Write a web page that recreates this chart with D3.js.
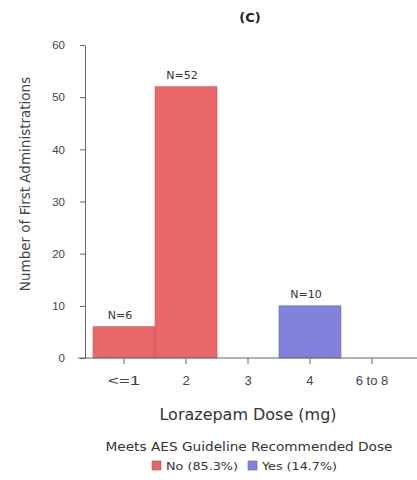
<!DOCTYPE html>
<html>
<head>
<meta charset="utf-8">
<script src="https://cdn.jsdelivr.net/npm/d3@7"></script>
<style>
  body { margin: 0; background: #fff; }
  svg { font-family: 'DejaVu Sans', Verdana, sans-serif; }
</style>
</head>
<body>
<div id="chart"></div>
<script>
const WIDTH = 417;
const HEIGHT = 480;

// data
const doses = ['<=1', '2', '3', '4', '6 to 8'];
const counts = [6, 52, 0, 10, 0];
const meets = ['No', 'No', 'No', 'Yes', 'No'];
const barLabels = ['N=6', 'N=52', '', 'N=10', ''];
const yTicks = [0, 10, 20, 30, 40, 50, 60];
const legendKeys = ['No', 'Yes'];
const legendLabels = ['No (85.3%)', 'Yes (14.7%)'];

const color = d3.scaleOrdinal().domain(legendKeys).range(['#e8686a', '#8282da']);

const svg = d3.select('#chart')
  .append('svg')
  .attr('width', WIDTH)
  .attr('height', HEIGHT);

const x = d3.scaleBand().domain(doses).range([85, 411]).paddingInner(0).paddingOuter(0.13);
const y = d3.scaleLinear().domain([0, 60]).range([358, 45]);

// title
svg.append('text')
  .attr('x', 250)
  .attr('y', 22)
  .attr('text-anchor', 'middle')
  .style('font-size', '13px')
  .style('font-weight', 'bold')
  .style('fill', '#222')
  .text('(C)');

// bars
const rows = doses.map((d, i) => ({ dose: d, n: counts[i], meets: meets[i], label: barLabels[i] }));
svg.selectAll('rect.bar')
  .data(rows.filter(d => d.n > 0))
  .enter()
  .append('rect')
  .attr('class', 'bar')
  .attr('x', d => x(d.dose))
  .attr('y', d => y(d.n))
  .attr('width', x.bandwidth())
  .attr('height', d => y(0) - y(d.n))
  .attr('fill', d => color(d.meets))
  .attr('stroke', d => d3.color(color(d.meets)).darker(0.6))
  .attr('stroke-width', 0.6);

svg.selectAll('text.nlab')
  .data(rows.filter(d => d.n > 0))
  .enter()
  .append('text')
  .attr('class', 'nlab')
  .attr('x', d => x(d.dose) + x.bandwidth() / 2 - 4)
  .attr('y', d => y(d.n) - 8)
  .attr('text-anchor', 'middle')
  .style('font-size', '11px')
  .style('fill', '#333')
  .text(d => d.label);

// y axis
const yAxis = svg.append('g')
  .attr('transform', 'translate(85,0)')
  .call(d3.axisLeft(y).tickValues(yTicks).tickSize(5).tickSizeOuter(0).tickPadding(15));
yAxis.selectAll('text').style('font-size', '11.5px').style('fill', '#444');
yAxis.selectAll('line, path').attr('stroke', '#666');

// x axis
const xAxis = svg.append('g')
  .attr('transform', 'translate(0,358)')
  .call(d3.axisBottom(x).tickSize(6).tickSizeOuter(0).tickPadding(12));
xAxis.select('.domain').attr('d', 'M78,0H417');
xAxis.selectAll('text').style('font-size', '13px').style('fill', '#444');
xAxis.selectAll('text').filter(d => d === '<=1')
  .attr('textLength', 32)
  .attr('lengthAdjust', 'spacingAndGlyphs');
xAxis.selectAll('line, path').attr('stroke', '#666');

// axis titles
svg.append('text')
  .attr('transform', 'translate(30,184) rotate(-90)')
  .attr('text-anchor', 'middle')
  .style('font-size', '13.5px')
  .style('fill', '#444')
  .text('Number of First Administrations');

svg.append('text')
  .attr('x', 248)
  .attr('y', 420)
  .attr('text-anchor', 'middle')
  .attr('textLength', 177)
  .attr('lengthAdjust', 'spacingAndGlyphs')
  .style('font-size', '15px')
  .style('fill', '#333')
  .text('Lorazepam Dose (mg)');

// legend
svg.append('text')
  .attr('x', 249)
  .attr('y', 451)
  .attr('text-anchor', 'middle')
  .attr('textLength', 287)
  .attr('lengthAdjust', 'spacingAndGlyphs')
  .style('font-size', '11.5px')
  .style('fill', '#333')
  .text('Meets AES Guideline Recommended Dose');

const legendX = [152, 248];
const legendW = [72, 75];
const legend = svg.selectAll('g.leg')
  .data(legendKeys)
  .enter()
  .append('g')
  .attr('class', 'leg')
  .attr('transform', (d, i) => `translate(${legendX[i]},461)`);
legend.append('rect')
  .attr('width', 9)
  .attr('height', 9)
  .attr('fill', d => color(d))
  .attr('stroke', d => d3.color(color(d)).darker(0.8))
  .attr('stroke-width', 0.6);
legend.append('text')
  .attr('x', 14)
  .attr('y', 8.5)
  .attr('textLength', (d, i) => legendW[i])
  .attr('lengthAdjust', 'spacingAndGlyphs')
  .style('font-size', '10px')
  .style('fill', '#333')
  .text((d, i) => legendLabels[i]);
</script>
</body>
</html>
